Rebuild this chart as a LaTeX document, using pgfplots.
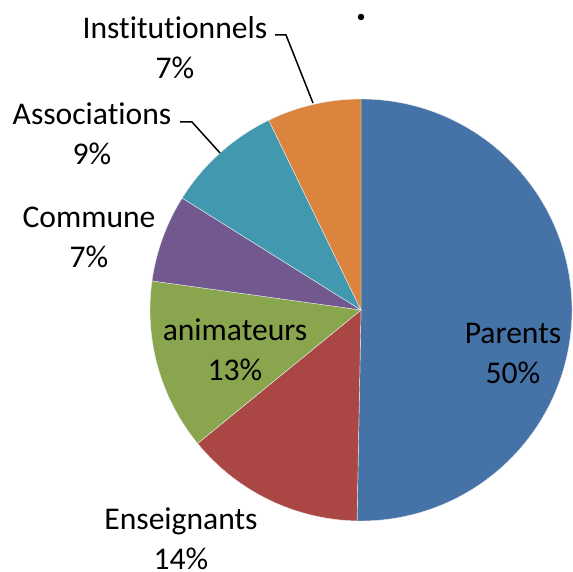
\documentclass[border=0pt]{standalone}
\usepackage{pgfplots}
\usepackage{pgfplotstable}
\pgfplotsset{compat=1.18}
\usepackage{fontspec}
\setmainfont{Carlito}[Ligatures=CommonOff]
\definecolor{cP}{HTML}{4572A7}
\definecolor{cE}{HTML}{AA4643}
\definecolor{cA}{HTML}{89A54E}
\definecolor{cC}{HTML}{71588F}
\definecolor{cS}{HTML}{4198AF}
\definecolor{cI}{HTML}{DB843D}
\pgfplotstableread{
label value col
Parents 50.3 cP
Enseignants 13.8 cE
animateurs 13.1 cA
Commune 6.7 cC
Associations 8.9 cS
Institutionnels 7.2 cI
}\piedata
\begin{document}
\begin{tikzpicture}
\begin{axis}[hide axis, x=1pt, y=1pt, xmin=0, xmax=573, ymin=0, ymax=572,
  clip=false, scale only axis]
\path (axis cs:0,0) rectangle (axis cs:573,572);
\pgfmathsetmacro\cum{0}
\pgfplotsforeachungrouped \i in {0,...,5}{%
  \pgfplotstablegetelem{\i}{value}\of\piedata \let\v\pgfplotsretval
  \pgfplotstablegetelem{\i}{col}\of\piedata \let\c\pgfplotsretval
  \pgfmathsetmacro\aone{90-3.6*\cum}%
  \pgfmathsetmacro\atwo{90-3.6*(\cum+\v)}%
  \edef\temp{\noexpand\fill[\c, draw=white!85!gray, line width=0.4pt] (axis cs:361,262) -- ++(\aone:211pt) arc[start angle=\aone, end angle=\atwo, radius=211pt] -- cycle;}%
  \temp
  \pgfmathsetmacro\cum{\cum+\v}%
}
\addplot[only marks, mark=*, mark size=3pt, black] coordinates {(361,555)};
\draw[black, line width=1.5pt] (axis cs:275,537) -- (axis cs:286,537) -- (axis cs:313,469);
\draw[black, line width=1.5pt] (axis cs:180,450) -- (axis cs:192,450) -- (axis cs:220,419);
\begin{scope}[every node/.style={font=\fontsize{31.6}{40}\selectfont, align=center, inner sep=0pt}]
\node at (axis cs:175,524.5) {Institutionnels\\7\%};
\node at (axis cs:92,438) {Associations\\9\%};
\node at (axis cs:89,334.5) {Commune\\7\%};
\node at (axis cs:235,222) {animateurs\\13\%};
\node at (axis cs:513,219) {Parents\\50\%};
\node at (axis cs:181,33) {Enseignants\\14\%};
\end{scope}
\end{axis}
\end{tikzpicture}
\end{document}
